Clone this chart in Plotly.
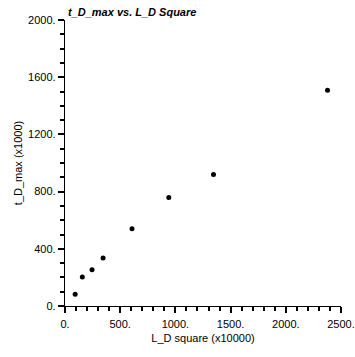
import plotly.graph_objects as go

# Measured values
l_d_square = [92, 157, 245, 345, 607, 940, 1345, 2378]      # L_D square (x10000)
t_d_max = [82, 202, 253, 335, 540, 759, 919, 1508]          # t_D_max (x1000)

x_range = [0, 2500]
y_range = [0, 2000]

font_family = "Liberation Sans, Arial, sans-serif"
tick_font = dict(family=font_family, size=11, color="black")

fig = go.Figure()
fig.add_trace(
    go.Scatter(
        x=l_d_square,
        y=t_d_max,
        mode="markers",
        marker=dict(color="black", size=5),
        showlegend=False,
    )
)

axis_style = dict(
    tickmode="linear", tick0=0, ticksuffix=".",
    ticks="outside", ticklen=6, tickwidth=1.6, tickcolor="black",
    showline=True, linecolor="black", linewidth=1.3,
    showgrid=False, zeroline=False,
    tickfont=tick_font, automargin=False,
    minor=dict(ticks="outside", ticklen=4, tickwidth=1.6, tickcolor="black",
               dtick=100, tick0=0, showgrid=False),
)

fig.update_layout(
    xaxis=dict(
        range=x_range, dtick=500, ticklabelstandoff=2,
        title=dict(text="L_D square (x10000)", font=tick_font, standoff=4),
        **axis_style,
    ),
    yaxis=dict(
        range=y_range, dtick=400,
        title=dict(text="t_D_max (x1000)", font=tick_font, standoff=3),
        **axis_style,
    ),
)

fig.add_annotation(
    text="<b><i>t_D_max vs. L_D Square</i></b>",
    xref="paper", yref="paper",
    x=0.005, y=1.0,
    xanchor="left", yanchor="bottom",
    showarrow=False,
    font=tick_font,
)

fig.update_layout(
    width=355,
    height=357,
    margin=dict(l=65, r=14, t=20, b=51),
    paper_bgcolor="white",
    plot_bgcolor="white",
)

fig.write_html("out.html")
